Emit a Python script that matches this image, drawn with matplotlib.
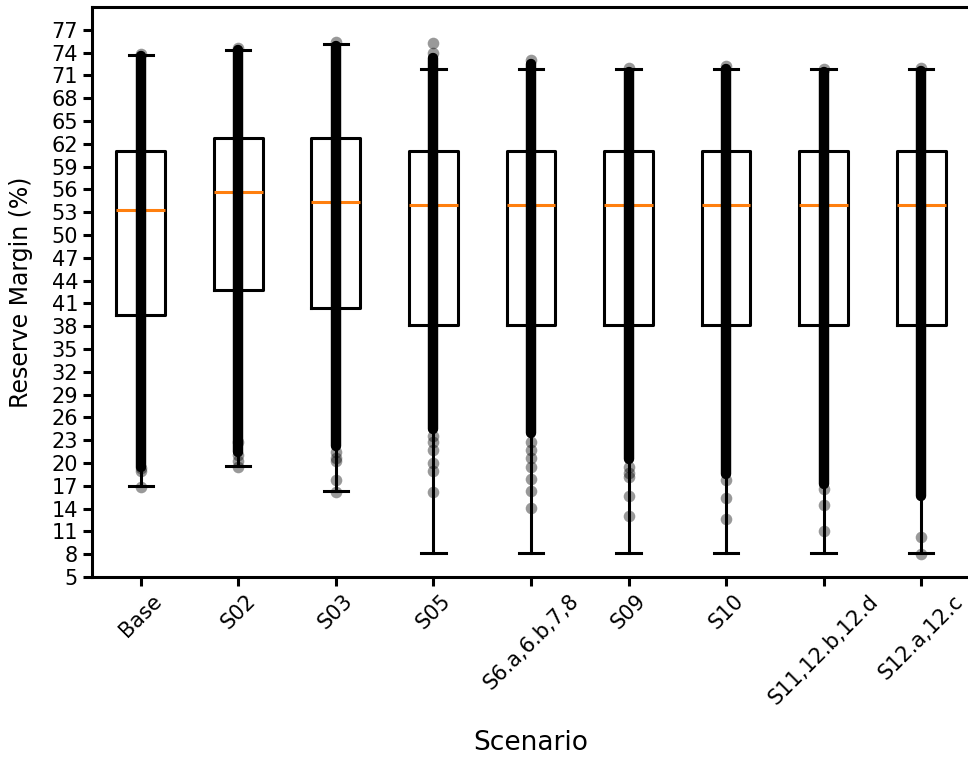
import matplotlib
matplotlib.use("Agg")
import matplotlib.pyplot as plt
import numpy as np

# scenario names (x categories)
scenarios = ["Base", "S02", "S03", "S05", "S6.a,6.b,7,8", "S09", "S10",
             "S11,12.b,12.d", "S12.a,12.c"]

# box statistics
q1 = [39.5, 42.8, 40.4, 38.2, 38.2, 38.2, 38.2, 38.2, 38.2]
med = [53.3, 55.7, 54.3, 53.9, 53.9, 53.9, 53.9, 53.9, 53.9]
q3 = [61.0, 62.7, 62.7, 61.0, 61.0, 61.0, 61.0, 61.0, 61.0]
whislo = [17.0, 19.6, 16.3, 8.2, 8.2, 8.2, 8.2, 8.2, 8.2]
whishi = [73.7, 74.4, 75.1, 71.8, 71.8, 71.8, 71.8, 71.8, 71.8]

# range where the sample points overlap into a solid strip
dense_lo = [19.5, 21.5, 22.3, 24.5, 24.0, 20.5, 18.5, 17.3, 15.6]
dense_hi = [73.6, 74.3, 74.8, 73.3, 72.5, 71.5, 71.8, 71.5, 71.6]

# individually visible sample points outside the strip
tail_pts = [
    [16.8, 19.0, 19.4, 73.8],
    [19.5, 20.3, 21.0, 22.7, 74.6],
    [16.2, 17.8, 20.2, 20.7, 21.5, 75.4],
    [16.2, 18.9, 20.0, 21.7, 22.8, 23.5, 74.0, 75.2],
    [14.1, 16.3, 17.9, 19.5, 20.7, 21.7, 22.8, 73.0],
    [13.0, 15.6, 18.2, 18.7, 19.5, 72.0],
    [12.6, 15.4, 17.8, 72.2],
    [11.0, 14.5, 16.6, 71.9],
    [8.0, 10.3, 72.0],
]

yticks = np.arange(5, 78, 3)

fig = plt.figure(figsize=(9.68, 7.57), dpi=100)
ax = fig.add_axes([0.095, 0.2378, 0.907, 0.753])

pos = np.arange(1, len(scenarios) + 1)
stats = []
for i, name in enumerate(scenarios):
    stats.append(dict(label=name, q1=q1[i], med=med[i], q3=q3[i],
                      whislo=whislo[i], whishi=whishi[i], fliers=[]))

lw = 2.2
ax.bxp(stats, positions=pos, widths=0.5, showfliers=False,
       boxprops=dict(linewidth=lw, color="black"),
       whiskerprops=dict(linewidth=lw, color="black"),
       capprops=dict(linewidth=lw, color="black"),
       medianprops=dict(linewidth=lw, color="#ff7f0e"))

# dense strip of points
ax.vlines(pos, dense_lo, dense_hi, color="black", linewidth=7.5,
          capstyle="round", zorder=3)
for i in range(len(scenarios)):
    ax.scatter(np.full(len(tail_pts[i]), pos[i]), tail_pts[i], s=70,
               color="black", alpha=0.4, linewidths=0, zorder=3)

ax.set_xlim(0.5, len(scenarios) + 0.5)
ax.set_ylim(5, 80)
ax.set_yticks(yticks)
ax.set_xticks(pos)
ax.set_xticklabels(scenarios, rotation=45)
ax.tick_params(labelsize=15, length=6.5, width=2.2)
for sp in ax.spines.values():
    sp.set_linewidth(2.2)

ax.set_xlabel("Scenario", fontsize=19)
ax.set_ylabel("Reserve Margin (%)", fontsize=17)
ax.yaxis.set_label_coords(-0.067, 0.5)
ax.xaxis.set_label_coords(0.5, -0.268)

fig.savefig("out.png", dpi=100)
